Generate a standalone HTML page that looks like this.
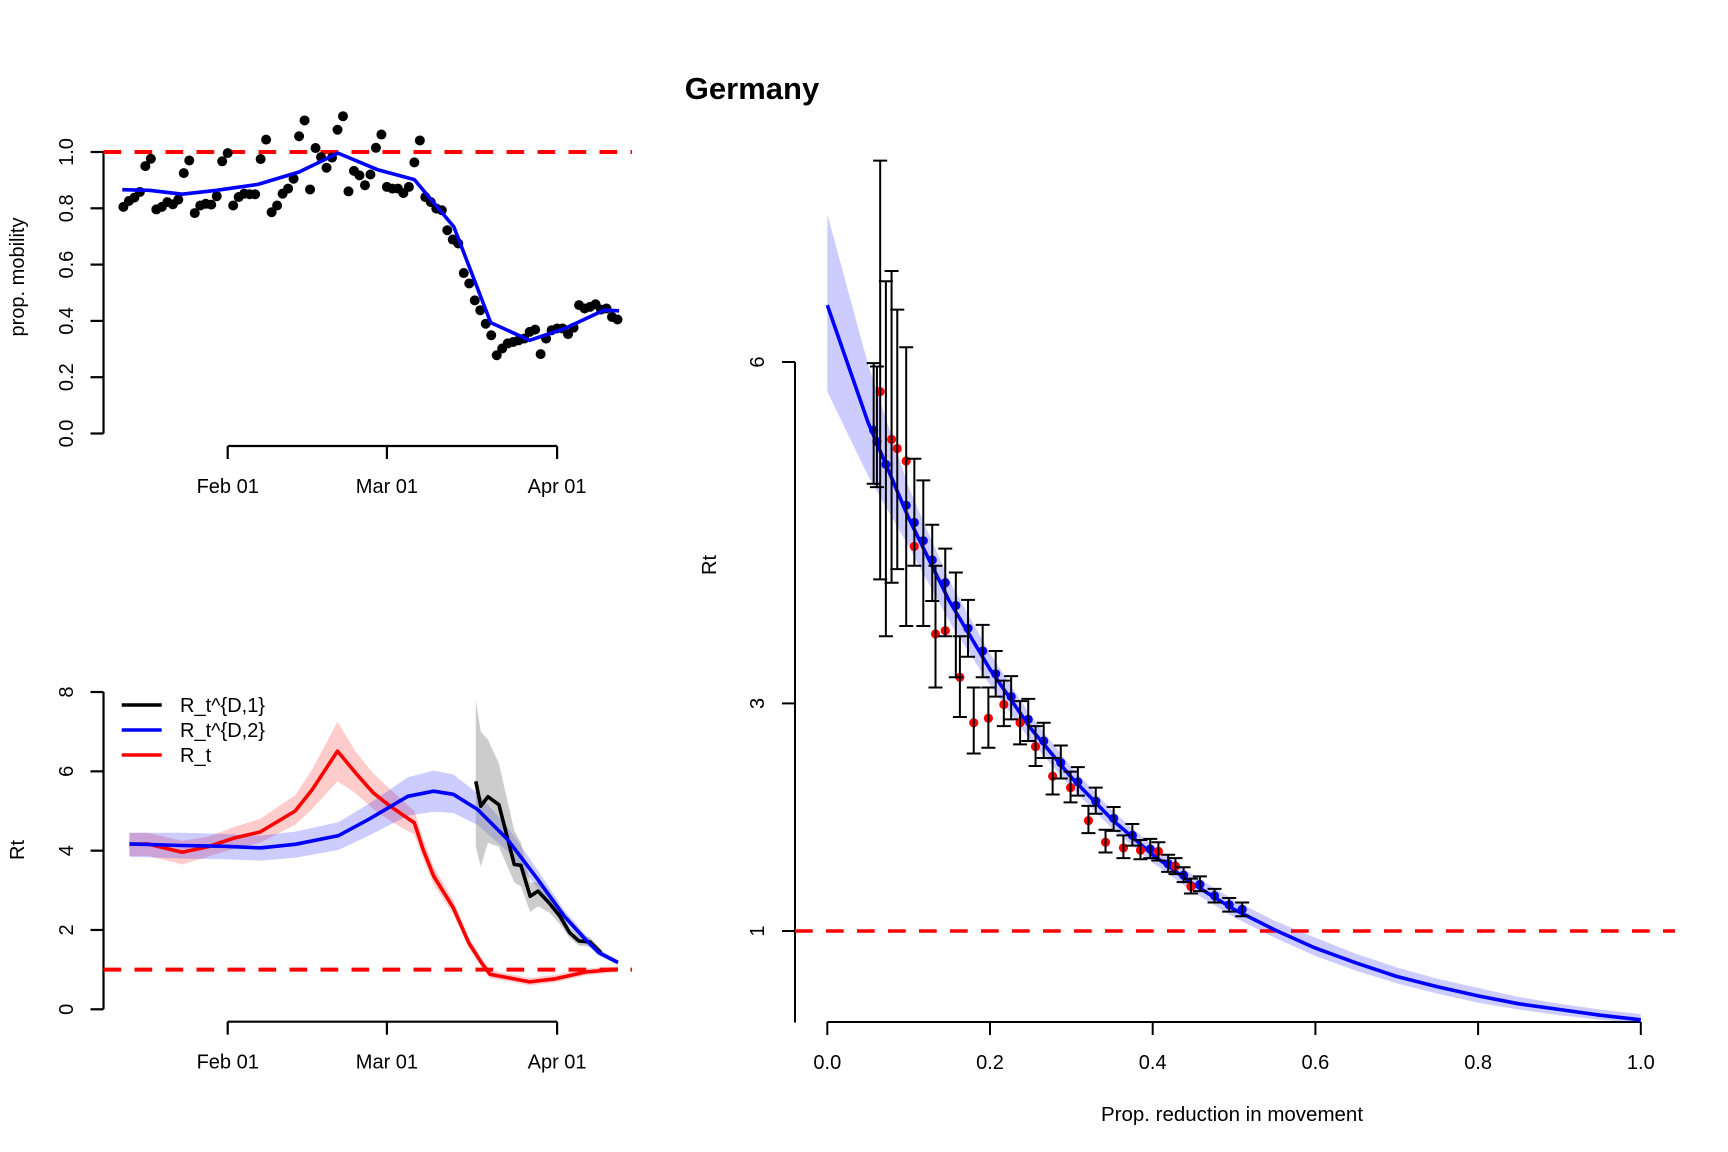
<!DOCTYPE html>
<html><head><meta charset="utf-8"><title>Germany</title>
<style>
html,body{margin:0;padding:0;background:#fff;}
svg{display:block;font-family:"Liberation Sans",Arial,sans-serif;}
</style></head>
<body>
<svg id="fig" width="1728" height="1152" viewBox="0 0 1728 1152" xmlns="http://www.w3.org/2000/svg">
<rect width="1728" height="1152" fill="#fff"/>
<text x="752" y="99" font-size="31" font-weight="bold" text-anchor="middle">Germany</text>
<g id="p1"></g>
<g id="p2"></g>
<g id="p3"></g>
</svg>
<script>
// ---------- Panel 1 data (mobility) ----------
const mobStartDay = -19; // days relative to Feb 01
const mobility = [0.805,0.826,0.838,0.858,0.95,0.976,0.796,0.805,0.822,0.814,0.831,0.925,0.97,0.783,0.81,0.816,0.813,0.843,0.967,0.996,
0.81,0.84,0.852,0.85,0.85,0.975,1.044,0.786,0.81,0.852,0.87,0.905,1.056,1.112,0.867,1.014,0.982,0.944,0.98,1.079,1.127,0.86,0.933,0.917,0.882,0.92,1.015,1.062,
0.876,0.87,0.87,0.854,0.876,0.963,1.041,0.84,0.822,0.799,0.793,0.722,0.689,0.675,0.57,0.533,0.473,0.438,0.39,0.349,0.278,0.302,0.32,0.325,0.331,0.337,0.361,0.369,0.282,0.337,0.367,
0.373,0.373,0.353,0.376,0.456,0.444,0.45,0.459,0.44,0.444,0.414,0.405];
const mobSmoothDays = [-19.2,-14.3,-8.3,-2,5.5,13,20.1,27.3,34,41.2,47.9,55,61.4,68.5,71.3];
const mobSmoothVals = [0.866,0.864,0.85,0.864,0.885,0.929,0.996,0.937,0.902,0.734,0.394,0.331,0.373,0.438,0.436];
const mobTicks = [0,0.2,0.4,0.6,0.8,1.0];
const mobTickLabels = ["0.0","0.2","0.4","0.6","0.8","1.0"];
const dateTickDays = [0,29,60];
const dateTickLabels = ["Feb 01","Mar 01","Apr 01"];

// ---------- Panel 2 data (Rt over time) ----------
const rtDays = [-17.9,-14.6,-8.3,-3.6,1.2,5.9,12.3,15.4,20,23.3,26.5,29.6,34,35.6,37.5,41.1,43.9,46.2,47.8,51,55,59.7,65.2,71.1];
const rtVals = [4.16,4.17,3.96,4.10,4.32,4.47,5.0,5.54,6.51,5.96,5.46,5.12,4.70,4.03,3.36,2.56,1.68,1.18,0.88,0.80,0.69,0.77,0.94,1.01];
const rtLo = [3.85,3.87,3.65,3.85,4.05,4.2,4.65,5.05,5.75,5.45,5.05,4.75,4.4,3.8,3.15,2.4,1.55,1.08,0.78,0.71,0.6,0.68,0.86,0.94];
const rtHi = [4.45,4.45,4.25,4.35,4.6,4.8,5.4,6.05,7.25,6.5,5.95,5.55,5.0,4.3,3.6,2.75,1.82,1.3,0.98,0.9,0.79,0.87,1.03,1.08];
const d2Days = [-17.9,-8.3,-0.4,5.9,12.3,20.2,25.7,32.8,37.5,41.1,45.5,51,56.5,61.3,65.2,67.6,71.1];
const d2Vals = [4.17,4.13,4.11,4.07,4.16,4.38,4.79,5.37,5.50,5.42,5.04,4.28,3.27,2.35,1.76,1.43,1.18];
const d2Lo = [3.85,3.8,3.78,3.75,3.82,4.02,4.38,4.88,4.98,4.95,4.65,3.98,3.05,2.2,1.65,1.35,1.12];
const d2Hi = [4.45,4.45,4.42,4.38,4.48,4.72,5.18,5.85,6.02,5.92,5.45,4.6,3.5,2.5,1.88,1.52,1.24];
const d1Days = [45.2,46.1,47.4,49.4,52.2,53.4,55.1,56.5,58.5,60.5,62.3,64,66,68];
const d1Vals = [5.75,5.12,5.36,5.16,3.65,3.63,2.85,2.98,2.69,2.35,1.93,1.72,1.70,1.43];
const d1Lo = [4.1,3.6,4.2,4.1,3.2,3.1,2.45,2.6,2.45,2.15,1.8,1.6,1.58,1.35];
const d1Hi = [7.8,7.0,6.8,6.2,4.5,4.2,3.2,3.2,2.9,2.5,2.05,1.85,1.82,1.5];
const rtTicks = [0,2,4,6,8];

// ---------- Panel 3 data (Rt vs reduction) ----------
const curveX = [0,0.05,0.1,0.15,0.2,0.25,0.3,0.35,0.4,0.45,0.5,0.55,0.6,0.65,0.7,0.75,0.8,0.85,0.9,0.95,1.0];
const curveVals = [6.50,5.47,4.63,3.90,3.30,2.78,2.35,1.98,1.67,1.41,1.19,1.01,0.85,0.72,0.60,0.51,0.43,0.36,0.31,0.26,0.22];
const curveLo = [5.74,5.00,4.38,3.72,3.16,2.67,2.26,1.90,1.60,1.34,1.12,0.94,0.78,0.65,0.54,0.45,0.37,0.31,0.26,0.22,0.19];
const curveHi = [7.30,5.98,4.90,4.08,3.44,2.89,2.44,2.06,1.75,1.49,1.27,1.09,0.94,0.80,0.68,0.58,0.50,0.42,0.36,0.31,0.27];
const ptX = [0.057,0.061,0.065,0.072,0.079,0.086,0.097,0.097,0.107,0.107,0.118,0.129,0.133,0.145,0.145,0.158,0.163,0.173,0.180,0.191,0.198,0.207,0.217,0.226,0.237,0.247,0.256,0.266,0.277,0.287,0.299,0.308,0.321,0.330,0.342,0.352,0.364,0.375,0.385,0.397,0.407,0.419,0.428,0.438,0.447,0.458,0.476,0.494,0.510];
const ptVal = [5.40,5.30,5.74,5.10,5.32,5.24,5.13,4.74,4.59,4.38,4.43,4.26,3.61,4.06,3.64,3.86,3.23,3.66,2.83,3.46,2.87,3.26,2.99,3.06,2.83,2.86,2.62,2.67,2.36,2.48,2.26,2.31,1.97,2.14,1.78,1.99,1.73,1.84,1.71,1.72,1.70,1.59,1.57,1.49,1.39,1.41,1.31,1.23,1.19];
const ptLo = [4.93,4.90,4.09,3.59,4.06,4.18,3.68,4.74,4.21,4.38,3.68,3.90,3.14,3.59,3.64,3.23,2.88,3.41,2.56,3.23,2.61,3.06,2.80,2.86,2.64,2.67,2.45,2.52,2.20,2.34,2.13,2.19,1.86,2.03,1.69,1.88,1.64,1.75,1.63,1.64,1.62,1.52,1.50,1.43,1.33,1.35,1.25,1.17,1.13];
const ptHi = [5.99,5.96,7.77,6.71,6.80,6.46,6.13,4.74,5.15,4.38,4.96,4.57,4.21,4.36,3.64,4.15,3.59,3.91,3.14,3.69,3.14,3.46,3.20,3.24,3.02,3.04,2.80,2.83,2.52,2.63,2.40,2.44,2.10,2.26,1.89,2.09,1.84,1.94,1.80,1.81,1.78,1.67,1.64,1.56,1.46,1.48,1.37,1.29,1.25];
const ptColor = ["b","b","r","b","r","r","r","b","b","r","b","b","r","b","r","b","r","b","r","b","r","b","r","b","r","b","r","b","r","b","r","b","r","b","r","b","r","b","r","b","r","b","r","b","r","b","b","b","b"];
const xTicks3 = [0,0.2,0.4,0.6,0.8,1.0];
const xTickLabels3 = ["0.0","0.2","0.4","0.6","0.8","1.0"];
const yTicks3 = [1,3,6];

// ---------- axis functions ----------
const NS = "http://www.w3.org/2000/svg";
function mk(parent, tag, attrs){const e=document.createElementNS(NS,tag);for(const k in attrs)e.setAttribute(k,attrs[k]);parent.appendChild(e);return e;}
const xDay = d => 227.7 + 5.49*d;
const y1 = v => 433.5 - 281.5*v;
const y2 = v => 1009.3 - 39.66*v;
const x3 = v => 827.3 + 813.5*v;
const y3 = v => 931 - 113.8*(v-1);
function poly(xs, ys){return xs.map((x,i)=>x.toFixed(1)+","+ys[i].toFixed(1)).join(" ");}
function bandPts(xs, lo, hi){const a=xs.map((x,i)=>x.toFixed(1)+","+hi[i].toFixed(1));const b=xs.map((x,i)=>x.toFixed(1)+","+lo[i].toFixed(1)).reverse();return a.concat(b).join(" ");}
function dateAxis(g, yAxis){
  const ax = mk(g,"line",{x1:xDay(dateTickDays[0]),x2:xDay(dateTickDays[dateTickDays.length-1]),y1:yAxis,y2:yAxis,stroke:"#000","stroke-width":2.2});
  
  
  dateTickDays.forEach((d,i)=>{
    const t = mk(g,"line",{x1:xDay(d),x2:xDay(d),y1:yAxis,y2:yAxis+13,stroke:"#000","stroke-width":2.2});
    
    
    const l = mk(g,"text",{x:xDay(d),y:yAxis+47,"font-size":20,"text-anchor":"middle"});
    l.textContent = dateTickLabels[i];
    
    
  });
}
function yAxisRot(g, xA, ticks, labels, yf, fs, labelX){
  const ax = mk(g,"line",{x1:xA,x2:xA,y1:yf(ticks[0]),y2:yf(ticks[ticks.length-1]),stroke:"#000","stroke-width":2.2});
  
  
  ticks.forEach((v,i)=>{
    const t = mk(g,"line",{x1:xA-13,x2:xA,y1:yf(v),y2:yf(v),stroke:"#000","stroke-width":2.2});
    
    
    const l = mk(g,"text",{x:labelX,y:yf(v),"font-size":fs,"text-anchor":"middle",transform:"rotate(-90 "+labelX+" "+yf(v)+")"});
    l.textContent = labels[i];
    
    
  });
}

// ---------- Panel 1 ----------
const p1 = document.getElementById('p1');
yAxisRot(p1, 103.5, mobTicks, mobTickLabels, y1, 20, 73);
dateAxis(p1, 446);
const yl1 = mk(p1,"text",{x:24,y:277,"font-size":20,"text-anchor":"middle",transform:"rotate(-90 24 277)"});
yl1.textContent = "prop. mobility";


const ref1 = mk(p1,"line",{x1:103.5,x2:632,y1:y1(1),y2:y1(1),stroke:"#ff0000","stroke-width":4,"stroke-dasharray":"17.7 13.3"});


mobility.forEach((v,i)=>{
  const c = mk(p1,"circle",{cx:xDay(mobStartDay+i),cy:y1(v),r:5,fill:"#000"});
  
  
});
const sm = mk(p1,"polyline",{points:poly(mobSmoothDays.map(xDay),mobSmoothVals.map(y1)),fill:"none",stroke:"#0000ff","stroke-width":3.6,"stroke-linejoin":"round"});



// ---------- Panel 2 ----------
const p2 = document.getElementById('p2');
yAxisRot(p2, 103.5, rtTicks, rtTicks.map(String), y2, 20, 73);
dateAxis(p2, 1021.7);
const yl2 = mk(p2,"text",{x:24,y:850,"font-size":20,"text-anchor":"middle",transform:"rotate(-90 24 850)"});
yl2.textContent = "Rt";


const bR = mk(p2,"polygon",{points:bandPts(rtDays.map(xDay),rtLo.map(y2),rtHi.map(y2)),fill:"rgba(255,0,0,0.2)"});


const bB = mk(p2,"polygon",{points:bandPts(d2Days.map(xDay),d2Lo.map(y2),d2Hi.map(y2)),fill:"rgba(0,0,255,0.2)"});


const bK = mk(p2,"polygon",{points:bandPts(d1Days.map(xDay),d1Lo.map(y2),d1Hi.map(y2)),fill:"rgba(128,128,128,0.4)"});


const ref2 = mk(p2,"line",{x1:103.5,x2:632,y1:y2(1),y2:y2(1),stroke:"#ff0000","stroke-width":4,"stroke-dasharray":"17.7 13.3"});


const lR = mk(p2,"polyline",{points:poly(rtDays.map(xDay),rtVals.map(y2)),fill:"none",stroke:"#ff0000","stroke-width":3.6,"stroke-linejoin":"round"});


const lK = mk(p2,"polyline",{points:poly(d1Days.map(xDay),d1Vals.map(y2)),fill:"none",stroke:"#000","stroke-width":3.6,"stroke-linejoin":"round"});


const lB = mk(p2,"polyline",{points:poly(d2Days.map(xDay),d2Vals.map(y2)),fill:"none",stroke:"#0000ff","stroke-width":3.6,"stroke-linejoin":"round"});


const legNames = ["R_t^{D,1}","R_t^{D,2}","R_t"];
const legColors = ["#000","#0000ff","#ff0000"];
legNames.forEach((n,i)=>{
  const yy = 705 + 25*i;
  const ln = mk(p2,"line",{x1:121.7,x2:161.7,y1:yy,y2:yy,stroke:legColors[i],"stroke-width":3.6});
  
  
  const tx = mk(p2,"text",{x:180,y:yy+7,"font-size":20});
  tx.textContent = n;
  
  
});

// ---------- Panel 3 ----------
const p3 = document.getElementById('p3');
const ay3 = mk(p3,"line",{x1:795,x2:795,y1:y3(6),y2:1022.5,stroke:"#000","stroke-width":2});


yTicks3.forEach(v=>{
  const t = mk(p3,"line",{x1:782,x2:795,y1:y3(v),y2:y3(v),stroke:"#000","stroke-width":2});
  
  
  const l = mk(p3,"text",{x:764,y:y3(v),"font-size":20,"text-anchor":"middle",transform:"rotate(-90 764 "+y3(v)+")"});
  l.textContent = String(v);
  
  
});
const ax3 = mk(p3,"line",{x1:x3(0),x2:x3(1),y1:1022,y2:1022,stroke:"#000","stroke-width":2});


xTicks3.forEach((v,i)=>{
  const t = mk(p3,"line",{x1:x3(v),x2:x3(v),y1:1022,y2:1035,stroke:"#000","stroke-width":2});
  
  
  const l = mk(p3,"text",{x:x3(v),y:1069,"font-size":20,"text-anchor":"middle"});
  l.textContent = xTickLabels3[i];
  
  
});
const xt3 = mk(p3,"text",{x:1232,y:1121,"font-size":20.5,"text-anchor":"middle"});
xt3.textContent = "Prop. reduction in movement";


const yt3 = mk(p3,"text",{x:716,y:565,"font-size":20,"text-anchor":"middle",transform:"rotate(-90 716 565)"});
yt3.textContent = "Rt";


const band3 = mk(p3,"polygon",{points:bandPts(curveX.map(x3),curveLo.map(y3),curveHi.map(y3)),fill:"rgba(0,0,255,0.2)"});


const ref3 = mk(p3,"line",{x1:795,x2:1675,y1:y3(1),y2:y3(1),stroke:"#ff0000","stroke-width":3.4,"stroke-dasharray":"17.7 13.3"});


const fit3 = mk(p3,"polyline",{points:poly(curveX.map(x3),curveVals.map(y3)),fill:"none",stroke:"#0000ff","stroke-width":3.6,"stroke-linejoin":"round"});


ptX.forEach((x,i)=>{
  const cx = x3(x);
  const c = mk(p3,"circle",{cx:cx,cy:y3(ptVal[i]),r:4.6,fill:ptColor[i]==="r"?"#ff0000":"#0000ff"});
  
  
});
ptX.forEach((x,i)=>{
  if (ptHi[i]-ptLo[i] < 0.01) return;
  const cx = x3(x);
  const eb = mk(p3,"path",{d:"M"+(cx-7)+","+y3(ptHi[i])+"H"+(cx+7)+"M"+cx+","+y3(ptHi[i])+"V"+y3(ptLo[i])+"M"+(cx-7)+","+y3(ptLo[i])+"H"+(cx+7),stroke:"#000","stroke-width":2,fill:"none"});
  
  
});
</script>
</body></html>
